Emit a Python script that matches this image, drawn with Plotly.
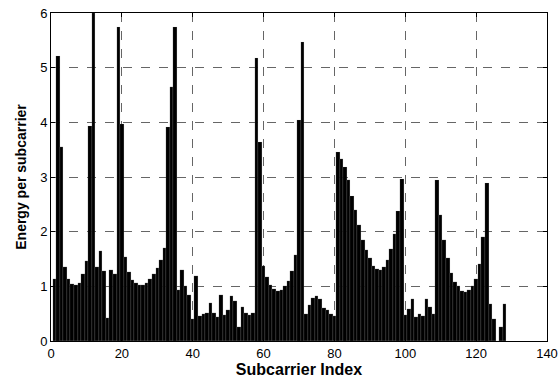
import plotly.graph_objects as go

subcarrier_index = list(range(1, 129))
energy = [
    1.13, 5.21, 3.55, 1.35, 1.13, 1.05, 1.02, 1.07, 1.22, 1.47,
    3.93, 6.00, 1.35, 1.64, 1.28, 0.42, 1.30, 1.22, 5.75, 3.97,
    1.53, 1.27, 1.12, 1.07, 1.03, 1.03, 1.07, 1.13, 1.22, 1.33,
    1.48, 1.70, 3.92, 4.65, 5.75, 0.94, 1.29, 1.00, 0.85, 0.41,
    1.18, 0.45, 0.50, 0.52, 0.70, 0.51, 0.44, 0.85, 0.47, 0.57,
    0.83, 0.73, 0.26, 0.62, 0.51, 0.47, 0.51, 5.18, 3.64, 1.38,
    1.17, 1.03, 0.95, 0.91, 0.93, 1.00, 1.10, 1.28, 1.57, 4.05,
    5.47, 0.49, 0.65, 0.79, 0.83, 0.77, 0.61, 0.57, 0.49, 0.45,
    3.46, 3.33, 3.18, 2.94, 2.66, 2.39, 2.12, 1.85, 1.66, 1.51,
    1.38, 1.32, 1.30, 1.35, 1.49, 1.69, 1.96, 2.38, 2.97, 0.47,
    0.59, 0.76, 0.44, 0.49, 0.45, 0.77, 0.63, 0.49, 2.94, 2.30,
    1.85, 1.51, 1.24, 1.08, 1.00, 0.91, 0.90, 0.93, 1.00, 1.14,
    1.40, 1.90, 2.89, 0.67, 0.41, 0.00, 0.26, 0.67,
]
x_ticks = [0, 20, 40, 60, 80, 100, 120, 140]
y_ticks = [0, 1, 2, 3, 4, 5, 6]

FONT = "Liberation Sans, Arial"

fig = go.Figure(go.Bar(
    x=subcarrier_index, y=energy,
    marker=dict(color="black", line=dict(color="#b0b0b0", width=0.15)),
    width=1.0,
))

axis_common = dict(
    showline=True, linecolor="black", linewidth=1, mirror="ticks",
    ticks="inside", ticklen=4, tickcolor="black",
    showgrid=True, gridcolor="#666666", gridwidth=1, griddash="dash",
    zeroline=False, automargin=False,
    tickfont=dict(family=FONT, size=13, color="black"),
)

fig.update_layout(
    width=559, height=382,
    margin=dict(l=51, r=12, t=13, b=41),
    paper_bgcolor="white", plot_bgcolor="white",
    bargap=0, showlegend=False,
    xaxis=dict(range=[0, 140], tickvals=x_ticks,
               title=dict(text="<b>Subcarrier Index</b>", standoff=3,
                          font=dict(family=FONT, size=16, color="black")),
               **axis_common),
    yaxis=dict(range=[0, 6], tickvals=y_ticks,
               title=dict(text="<b>Energy per subcarrier</b>", standoff=10,
                          font=dict(family=FONT, size=14, color="black")),
               **axis_common),
)

fig.write_html("out.html")
